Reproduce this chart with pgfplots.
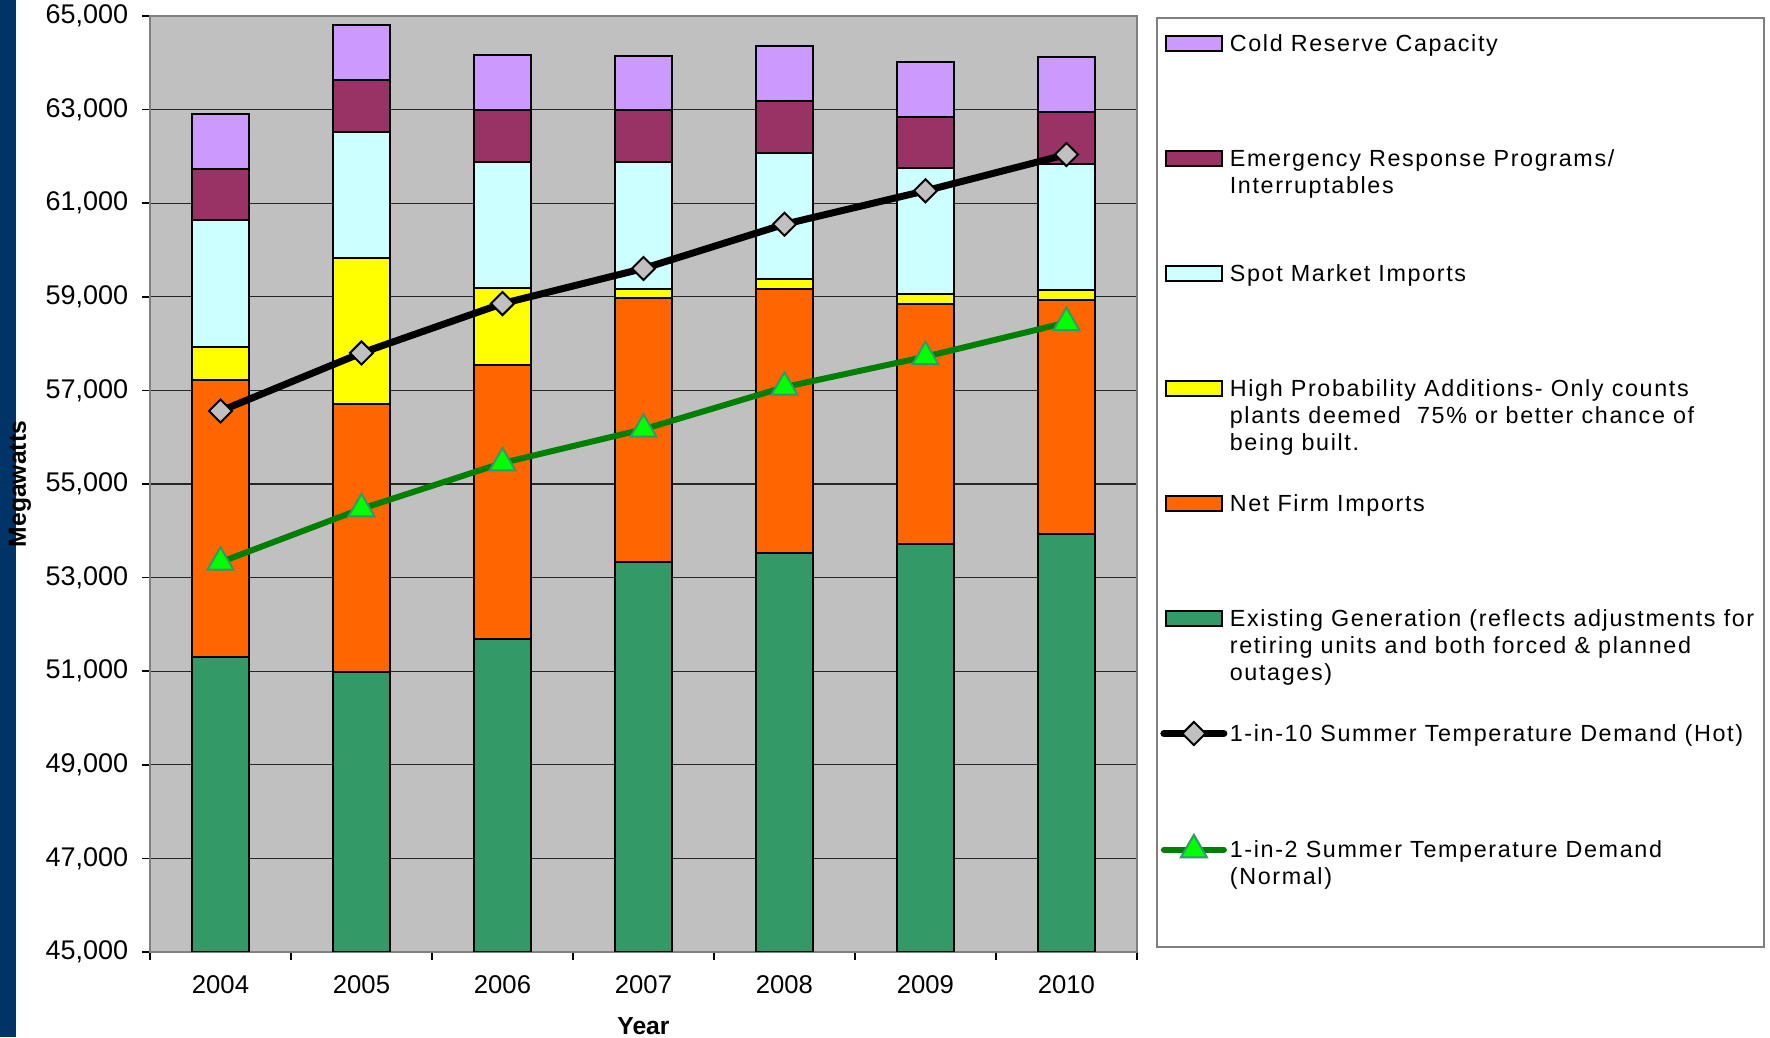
\documentclass[border=0pt]{standalone}
\usepackage{fontspec}
\setmainfont{Liberation Sans}
\newfontfamily\legfont[LetterSpace=7]{Liberation Sans}
\usepackage{pgfplots}
\usepackage{pgfplotstable}
\pgfplotsset{compat=1.18}

\definecolor{coldc}{HTML}{CC99FF}
\definecolor{emerc}{HTML}{993366}
\definecolor{spotc}{HTML}{CCFFFF}
\definecolor{highc}{HTML}{FFFF00}
\definecolor{netc}{HTML}{FF6600}
\definecolor{exic}{HTML}{339966}
\definecolor{plotbg}{HTML}{C0C0C0}
\definecolor{stripe}{HTML}{003366}
\definecolor{normline}{HTML}{008000}
\definecolor{trifill}{HTML}{00FF00}
\definecolor{triedge}{HTML}{339966}

% stacked segment heights (MW) and the two demand lines
\pgfplotstableread{
x exist net  high spot emerg cold hot   normal
0 51310 5904 712  2710 1091  1170 56560 53330
1 50975 5744 3111 2695 1106  1169 57800 54470
2 51689 5846 1661 2687 1106  1177 58855 55450
3 53342 5641 192  2695 1119  1162 59605 56170
4 53528 5632 229  2687 1113  1169 60550 57070
5 53721 5134 198  2689 1104  1177 61265 57720
6 53934 5006 199  2695 1106  1177 62040 58450
}\datatable

\newcommand\legtxt[2]{\parbox[t][#1][t]{159.2pt}{\legfont\fontsize{7}{8.1}\selectfont\raggedright\rule{0pt}{6.5pt}#2}}

\pgfplotsset{
  barleg/.style={legend image code/.code={\draw[##1] (0pt,0.2pt) rectangle (17pt,4.6pt);}},
  lineleg/.style={legend image code/.code={\draw[##1,sharp plot,line cap=round,mark repeat=2,mark phase=2]
      plot coordinates {(-0.5pt,2.4pt) (8.5pt,2.4pt) (17.5pt,2.4pt)};}},
  hotstyle/.style={draw=black, line width=2.1pt, mark=square*, mark size=2.45pt,
      mark options={rotate=45, fill=plotbg, draw=black, line width=0.6pt}},
  normstyle/.style={draw=normline, line width=1.8pt, mark=triangle*, mark size=4.5pt,
      mark options={fill=trifill, draw=triedge, line width=0.6pt}},
  geom/.style={at={(45pt,25.5pt)}, anchor=south west, scale only axis,
      width=296.1pt, height=280.8pt, xmin=-0.5, xmax=6.5, ymin=45000, ymax=65000},
}

\begin{document}
\begin{tikzpicture}
\useasboundingbox (0,0) rectangle (531pt,311.1pt);
\fill[stripe] (0,0) rectangle (4.8pt,311.1pt);
\begin{axis}[
  geom,
  ybar stacked, bar width=0.4,
  axis background/.style={fill=plotbg},
  axis line style={draw=black!50, line width=0.7pt},
  xtick={0,...,6}, xticklabels={2004,2005,2006,2007,2008,2009,2010},
  minor xtick={-0.5,0.5,...,6.5},
  ytick={45000,47000,...,65000},
  xtick pos=bottom, ytick pos=left,
  scaled y ticks=false,
  tick align=outside, major tick length=2.4pt, minor tick length=2.4pt,
  tick style={black, line width=0.5pt},
  major x tick style={draw=none},
  ymajorgrids, grid style={black!85, line width=0.4pt},
  yticklabel style={/pgf/number format/1000 sep={,}, /pgf/number format/assume math mode=true,
      font=\fontsize{8.1}{9}\selectfont, xshift=-0.6pt},
  xticklabel style={font=\fontsize{7.7}{9}\selectfont, yshift=-1.2pt},
  xlabel={Year}, ylabel={Megawatts},
  xlabel style={at={(axis description cs:0.5,-0.079)}, anchor=center, font=\fontsize{7.4}{9}\selectfont\bfseries},
  ylabel style={at={(axis description cs:-0.1317,0.5)}, anchor=center, font=\fontsize{7.4}{9}\selectfont\bfseries},
  legend style={at={(axis description cs:1.0195,0.99893)}, anchor=north west,
      draw=black!50, line width=0.5pt, fill=white,
      inner xsep=1pt, inner ysep=3.6pt, column sep=0.75pt, row sep=0pt,
      nodes={inner sep=0pt, text depth={}, text height={}},
      cells={anchor=base west}},
]
\addplot[fill=exic, draw=black, line width=0.6pt, forget plot] table[x=x,y=exist]{\datatable};
\addplot[fill=netc, draw=black, line width=0.6pt, forget plot] table[x=x,y=net]{\datatable};
\addplot[fill=highc, draw=black, line width=0.6pt, forget plot] table[x=x,y=high]{\datatable};
\addplot[fill=spotc, draw=black, line width=0.6pt, forget plot] table[x=x,y=spot]{\datatable};
\addplot[fill=emerc, draw=black, line width=0.6pt, forget plot] table[x=x,y=emerg]{\datatable};
\addplot[fill=coldc, draw=black, line width=0.6pt, forget plot] table[x=x,y=cold]{\datatable};

\addlegendimage{barleg, fill=coldc, draw=black, line width=0.6pt}
\addlegendentry{\legtxt{34.5pt}{Cold Reserve Capacity}}
\addlegendimage{barleg, fill=emerc, draw=black, line width=0.6pt}
\addlegendentry{\legtxt{34.5pt}{Emergency Response Programs/\\Interruptables}}
\addlegendimage{barleg, fill=spotc, draw=black, line width=0.6pt}
\addlegendentry{\legtxt{34.5pt}{Spot Market Imports}}
\addlegendimage{barleg, fill=highc, draw=black, line width=0.6pt}
\addlegendentry{\legtxt{34.5pt}{High Probability Additions- Only counts\\plants deemed\ \ 75\% or better chance of\\being built.}}
\addlegendimage{barleg, fill=netc, draw=black, line width=0.6pt}
\addlegendentry{\legtxt{34.5pt}{Net Firm Imports}}
\addlegendimage{barleg, fill=exic, draw=black, line width=0.6pt}
\addlegendentry{\legtxt{34.5pt}{\mbox{Existing Generation (reflects adjustments for}\\retiring units and both forced \& planned\\outages)}}
\addlegendimage{lineleg, hotstyle}
\addlegendentry{\legtxt{34.5pt}{\mbox{1-in-10 Summer Temperature Demand (Hot)}}}
\addlegendimage{lineleg, normstyle}
\addlegendentry{\legtxt{29.7pt}{1-in-2 Summer Temperature Demand\\(Normal)}}
\end{axis}
\begin{axis}[geom, hide axis]
\addplot[hotstyle] table[x=x,y=hot]{\datatable};
\addplot[normstyle] table[x=x,y=normal]{\datatable};
\end{axis}
\end{tikzpicture}
\end{document}
